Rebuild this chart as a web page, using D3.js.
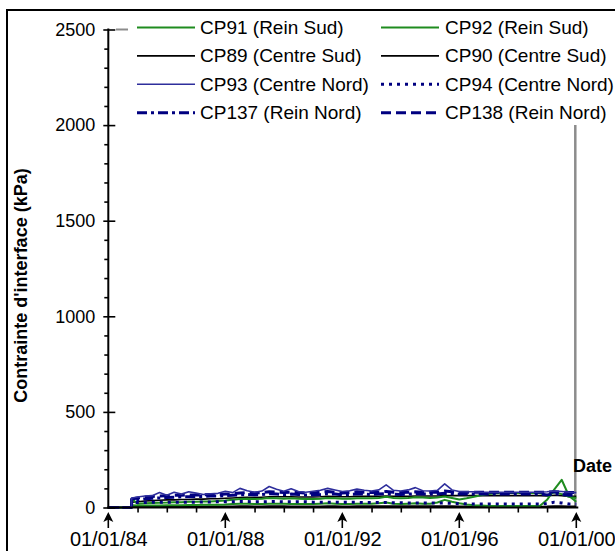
<!DOCTYPE html>
<html>
<head>
<meta charset="utf-8">
<script src="https://cdn.jsdelivr.net/npm/d3@7"></script>
<style>
  html, body { margin: 0; padding: 0; background: #fff; }
  svg { display: block; font-family: "Liberation Sans", Arial, sans-serif; }
</style>
</head>
<body>
<svg id="chart" width="615" height="551"></svg>
<script>
// ---------------- DATA ----------------
const dates = [1984.0, 1984.79, 1984.8,
  1985.0, 1985.25, 1985.5, 1985.75,
  1986.0, 1986.25, 1986.5, 1986.75,
  1987.0, 1987.25, 1987.5, 1987.75,
  1988.0, 1988.25, 1988.5, 1988.75,
  1989.0, 1989.25, 1989.5, 1989.75,
  1990.0, 1990.25, 1990.5, 1990.75,
  1991.0, 1991.25, 1991.5, 1991.75,
  1992.0, 1992.25, 1992.5, 1992.75,
  1993.0, 1993.25, 1993.5, 1993.75,
  1994.0, 1994.25, 1994.5, 1994.75,
  1995.0, 1995.25, 1995.5, 1995.75,
  1996.0, 1996.25, 1996.5, 1996.75,
  1997.0, 1997.25, 1997.5, 1997.75,
  1998.0, 1998.25, 1998.5, 1998.75,
  1999.0, 1999.25, 1999.5, 1999.75,
  2000.0];

const seriesNames = ["CP91 (Rein Sud)", "CP92 (Rein Sud)", "CP89 (Centre Sud)", "CP90 (Centre Sud)",
                     "CP93 (Centre Nord)", "CP94 (Centre Nord)", "CP137 (Rein Nord)", "CP138 (Rein Nord)"];

const cp91 = [0, 0, 45,
  20, 22, 24, 25,  26, 28, 28, 30,  30, 32, 32, 34,  36, 40, 44, 46,
  44, 46, 50, 48,  46, 48, 46, 44,  44, 46, 50, 48,  46, 46, 48, 48,
  48, 50, 56, 50,  48, 50, 54, 52,  50, 52, 58, 50,  42, 48, 56, 64,
  70, 74, 76, 76,  76, 76, 76, 76,  62, 80, 70, 56,  50];
const cp92 = [0, 0, 12,
  10, 10, 11, 11,  12, 12, 12, 13,  13, 14, 14, 15,  16, 18, 20, 20,
  18, 18, 20, 20,  20, 18, 18, 18,  18, 20, 22, 20,  18, 18, 20, 20,
  20, 22, 26, 20,  18, 20, 22, 20,  20, 26, 40, 30,  22, 16, 12, 10,
  8, 8, 8, 8,  8, 8, 8, 8,  40, 95, 145, 60,  30];
const cp89 = [0, 0, 28,
  30, 34, 36, 38,  40, 40, 42, 42,  44, 44, 46, 46,  48, 50, 52, 54,
  52, 54, 56, 56,  56, 56, 55, 55,  55, 56, 58, 57,  56, 56, 58, 58,
  58, 58, 60, 58,  58, 58, 60, 60,  60, 60, 62, 62,  62, 62, 62, 62,
  62, 62, 62, 62,  62, 62, 62, 62,  60, 64, 62, 58,  58];
const cp90 = [0, 0, 4,
  4, 4, 5, 5,  5, 5, 5, 5,  5, 6, 6, 6,  6, 6, 7, 7,
  6, 6, 7, 7,  7, 6, 6, 6,  6, 6, 7, 7,  6, 6, 7, 7,
  7, 7, 8, 7,  7, 7, 7, 7,  7, 7, 8, 7,  6, 6, 5, 5,
  5, 5, 5, 5,  5, 5, 5, 5,  6, 8, 7, 6,  6];
const cp93 = [0, 0, 50,
  55, 60, 62, 78,  64, 80, 70, 82,  75, 68, 72, 74,  85, 78, 100, 88,
  80, 86, 110, 95,  85, 98, 84, 80,  85, 90, 100, 92,  84, 88, 96, 90,
  86, 92, 118, 90,  86, 92, 104, 88,  86, 90, 124, 92,  84, 82, 82, 80,
  80, 80, 80, 80,  80, 80, 80, 80,  82, 86, 84, 80,  78];
const cp94 = [0, 0, 25,
  26, 26, 27, 27,  28, 28, 28, 28,  28, 29, 29, 30,  30, 30, 31, 31,
  30, 30, 31, 31,  30, 30, 30, 30,  28, 28, 28, 28,  27, 27, 27, 26,
  26, 26, 26, 25,  25, 24, 24, 24,  24, 23, 23, 22,  20, 19, 18, 18,
  18, 18, 18, 18,  18, 18, 18, 18,  20, 28, 24, 18,  18];
const cp137 = [0, 0, 38,
  40, 45, 48, 50,  52, 54, 56, 56,  58, 58, 60, 60,  62, 64, 66, 68,
  66, 68, 72, 70,  68, 70, 68, 66,  66, 68, 72, 70,  66, 68, 70, 70,
  68, 70, 72, 70,  68, 70, 72, 70,  70, 70, 74, 72,  70, 70, 70, 70,
  70, 70, 70, 70,  70, 70, 70, 70,  66, 72, 68, 64,  64];
const cp138 = [0, 0, 45,
  50, 55, 58, 60,  62, 64, 64, 66,  66, 66, 68, 68,  70, 72, 76, 78,
  76, 78, 82, 80,  78, 80, 78, 76,  76, 80, 84, 80,  76, 78, 82, 80,
  78, 80, 84, 80,  78, 80, 82, 80,  80, 80, 86, 82,  80, 80, 80, 80,
  80, 80, 80, 80,  80, 80, 80, 80,  80, 82, 80, 78,  78];

const seriesValues = [cp91, cp92, cp89, cp90, cp93, cp94, cp137, cp138];

const yTickValues = [0, 500, 1000, 1500, 2000, 2500];
const xTickValues = [1984, 1988, 1992, 1996, 2000];
const xTickLabels = ["01/01/84", "01/01/88", "01/01/92", "01/01/96", "01/01/00"];

// ---------------- STYLES ----------------
const GREEN = "#1f8c1f", NAVY = "#000080", BLUE = "#2e2e9c";
const styles = [
  {color: GREEN, width: 2, dash: null},
  {color: GREEN, width: 2, dash: null},
  {color: "#000", width: 1.6, dash: null},
  {color: "#000", width: 1.6, dash: null},
  {color: BLUE, width: 1.6, dash: null},
  {color: NAVY, width: 3, dash: "3,5"},
  {color: NAVY, width: 3, dash: "10,4,3,4"},
  {color: NAVY, width: 3, dash: "10,5"}
];

// ---------------- CHART ----------------
const svg = d3.select("#chart");

// outer frame
svg.append("rect").attr("x", 7).attr("y", 10).attr("width", 700).attr("height", 700)
  .attr("fill", "none").attr("stroke", "#000").attr("stroke-width", 2);

const x = d3.scaleLinear().domain([1984, 2000]).range([108.3, 576.3]);
const y = d3.scaleLinear().domain([0, 2500]).range([507.5, 29.5]);

// grey artefacts
svg.append("line").attr("x1", x(2000) - 1).attr("x2", x(2000) - 1).attr("y1", 125).attr("y2", y(0))
  .attr("stroke", "#8c8c8c").attr("stroke-width", 2.5);
svg.append("line").attr("x1", 116).attr("x2", 128).attr("y1", y(2500)).attr("y2", y(2500))
  .attr("stroke", "#8c8c8c").attr("stroke-width", 2);

// data lines
const drawOrder = [3, 2, 0, 1, 5, 6, 7, 4];
const line = d3.line().x((d, i) => x(dates[i])).y(d => y(d));
drawOrder.forEach(k => {
  const st = styles[k];
  svg.append("path").datum(seriesValues[k])
    .attr("d", line)
    .attr("fill", "none")
    .attr("stroke", st.color)
    .attr("stroke-width", st.width)
    .attr("stroke-dasharray", st.dash)
    .attr("stroke-linejoin", "round");
});

// Y axis
const yMinor = d3.range(100, 2500, 100).filter(v => v % 500 !== 0);
const gyMinor = svg.append("g").attr("transform", `translate(${x(1984)},0)`)
  .call(d3.axisLeft(y).tickValues(yMinor).tickSize(4).tickFormat(""));
const gyRight = svg.append("g").attr("transform", `translate(${x(1984)},0)`)
  .call(d3.axisRight(y).tickValues(yTickValues).tickSize(7).tickFormat(""));
const gy = svg.append("g").attr("transform", `translate(${x(1984)},0)`)
  .call(d3.axisLeft(y).tickValues(yTickValues).tickSize(5).tickPadding(8).tickFormat(d3.format("d")));
gy.selectAll("text").attr("font-size", 18).attr("fill", "#000").attr("font-family", "Liberation Sans, Arial, sans-serif");
[gyMinor, gyRight, gy].forEach(g => {
  g.select(".domain").remove();
  g.selectAll("line").attr("stroke", "#000").attr("stroke-width", 1.6);
});
svg.append("line").attr("x1", x(1984)).attr("x2", x(1984)).attr("y1", y(2500) - 1).attr("y2", y(0) + 1)
  .attr("stroke", "#000").attr("stroke-width", 2);

// X axis
const xMinor = d3.range(1985, 2000, 1).filter(v => v % 4 !== 0);
const gxMinor = svg.append("g").attr("transform", `translate(0,${y(0)})`)
  .call(d3.axisBottom(x).tickValues(xMinor).tickSize(5).tickFormat(""));
gxMinor.select(".domain").remove();
gxMinor.selectAll("line").attr("stroke", "#000").attr("stroke-width", 1.6);
const gx = svg.append("g").attr("transform", `translate(0,${y(0)})`)
  .call(d3.axisBottom(x).tickValues(xTickValues).tickSize(0).tickPadding(24)
    .tickFormat((d, i) => xTickLabels[i]));
gx.select(".domain").remove();
gx.selectAll("text").attr("font-size", 20).attr("fill", "#000").attr("font-family", "Liberation Sans, Arial, sans-serif");
svg.append("line").attr("x1", x(1984) - 1).attr("x2", x(2000) + 2).attr("y1", y(0)).attr("y2", y(0))
  .attr("stroke", "#000").attr("stroke-width", 2);

// arrows under major ticks
xTickValues.forEach(v => {
  const cx = x(v);
  svg.append("line").attr("x1", cx).attr("x2", cx).attr("y1", 518).attr("y2", 528)
    .attr("stroke", "#000").attr("stroke-width", 1.6);
  svg.append("path").attr("d", `M${cx},512 L${cx + 5},522 L${cx},519.5 L${cx - 5},522 Z`).attr("fill", "#000");
});

// Axis titles
svg.append("text").attr("transform", `translate(27,${(y(0) + y(2500)) / 2 + 17}) rotate(-90)`)
  .attr("text-anchor", "middle").attr("font-weight", "bold").attr("font-size", 18)
  .text("Contrainte d'interface (kPa)");
svg.append("text").attr("x", 573).attr("y", 472).attr("font-weight", "bold").attr("font-size", 18)
  .text("Date");

// Legend
const legCols = [{lx: 137, tx: 200}, {lx: 381, tx: 445}];
seriesNames.forEach((name, i) => {
  const col = legCols[i % 2];
  const row = Math.floor(i / 2);
  const ly = 27.5 + row * 28.4;
  const st = styles[i];
  svg.append("line").attr("x1", col.lx).attr("x2", col.lx + 58).attr("y1", ly).attr("y2", ly)
    .attr("stroke", st.color).attr("stroke-width", Math.max(st.width, 1.6)).attr("stroke-dasharray", st.dash);
  svg.append("text").attr("x", col.tx).attr("y", ly + 6.5).attr("font-size", 19).attr("fill", "#000")
    .text(name);
});
</script>
</body>
</html>
